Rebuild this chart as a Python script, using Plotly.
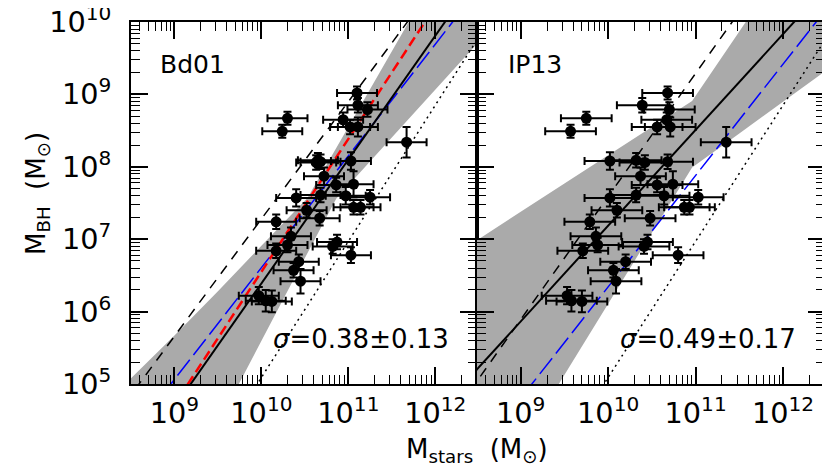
import numpy as np
import plotly.graph_objects as go
from plotly.subplots import make_subplots

# log10 M_BH, same galaxies in both panels
log_mbh = [9.02, 8.85, 8.79, 8.67, 8.65, 8.55, 8.55, 8.49, 8.34, 8.09, 8.08, 8.07, 8.06,
           7.87, 7.76, 7.75, 7.61, 7.60, 7.58, 7.57, 7.44, 7.44, 7.40, 7.29, 7.24, 7.04,
           6.96, 6.92, 6.90, 6.84, 6.78, 6.69, 6.57, 6.42, 6.22, 6.15, 6.14]
log_mbh_err = [0.09, 0.10, 0.10, 0.09, 0.10, 0.10, 0.13, 0.09, 0.21, 0.10, 0.12, 0.10, 0.10,
               0.12, 0.18, 0.10, 0.10, 0.12, 0.10, 0.12, 0.10, 0.10, 0.10, 0.10, 0.10, 0.12,
               0.10, 0.10, 0.10, 0.10, 0.11, 0.10, 0.10, 0.17, 0.12, 0.15, 0.15]
# log10 M_stars for the two estimates
log_mstar_bd = [11.10, 11.11, 11.22, 10.30, 10.94, 11.02, 11.11, 10.24, 11.67, 10.65, 11.03, 10.68, 10.63,
                10.72, 11.06, 10.86, 10.68, 10.97, 11.25, 10.40, 11.06, 11.14, 10.52, 10.67, 10.17, 10.34,
                10.87, 10.30, 10.82, 10.17, 11.03, 10.43, 10.37, 10.45, 9.97, 10.05, 10.12]
log_mstar_ip = [10.68, 10.39, 10.70, 9.75, 10.67, 10.56, 10.71, 9.57, 11.35, 10.32, 10.02, 10.68, 10.42,
                10.37, 10.74, 10.56, 10.32, 10.64, 11.03, 10.02, 10.87, 10.93, 10.10, 10.48, 9.79, 9.86,
                10.45, 9.88, 10.41, 9.71, 10.80, 10.20, 10.06, 10.09, 9.53, 9.58, 9.70]
mstar_err_bd = 0.23
mstar_err_ip = 0.29

# relations: (log M_BH at log M_stars = 11, slope)
fit_bd = (8.10, 1.71)
fit_ip = (8.51, 1.323)
dash_bd = (8.90, 1.62)
dash_ip = (9.29, 1.70)
blue_bd = (8.15, 1.543)
blue_ip = (7.88, 1.538)
red_bd = (8.385, 1.835)
dotted = (6.97, 1.88)

# confidence bands (log units)
band_bd_up_x = [8.3, 8.5, 9.0, 9.5, 10.0, 10.53, 11.0, 11.5, 12.0, 12.7]
band_bd_up_y = [4.83, 5.08, 5.67, 6.28, 6.91, 7.57, 8.55, 9.60, 10.65, 12.1]
band_bd_lo_x = [8.3, 9.5, 10.0, 10.5, 10.86, 11.0, 11.5, 12.0, 12.7]
band_bd_lo_y = [1.7, 4.46, 5.60, 6.74, 7.56, 7.75, 8.41, 9.07, 9.99]
band_ip_up_x = [8.3, 8.5, 9.0, 9.5, 10.0, 10.5, 10.96, 11.5, 12.0, 12.7]
band_ip_up_y = [6.83, 6.99, 7.38, 7.77, 8.16, 8.55, 8.91, 9.87, 10.76, 12.0]
band_ip_lo_x = [8.3, 9.43, 10.0, 10.5, 10.96, 11.5, 12.0, 12.48, 12.7]
band_ip_lo_y = [2.77, 4.99, 6.11, 7.09, 7.99, 8.46, 8.90, 9.32, 9.51]

xrange_log = [8.5, 12.48]
yrange_log = [5, 10]

W, H = 830, 468
FONT = "DejaVu Sans"

fig = make_subplots(rows=1, cols=2, shared_yaxes=True, horizontal_spacing=0)


def rel_line(par, lo=8.3, hi=12.7):
    xs = np.array([lo, hi])
    ys = par[0] + par[1] * (xs - 11)
    return 10 ** xs, 10 ** ys


def add_panel(col, band_up_x, band_up_y, band_lo_x, band_lo_y, lines, xs, xerr):
    bx = list(band_up_x) + list(band_lo_x)[::-1]
    by = list(band_up_y) + list(band_lo_y)[::-1]
    fig.add_trace(go.Scatter(x=10 ** np.array(bx), y=10 ** np.array(by), mode="lines",
                             fill="toself", fillcolor="#aaaaaa", line=dict(width=0),
                             hoverinfo="skip", showlegend=False), row=1, col=col)
    for par, color, dash, width in lines:
        lx, ly = rel_line(par)
        fig.add_trace(go.Scatter(x=lx, y=ly, mode="lines",
                                 line=dict(color=color, dash=dash, width=width),
                                 showlegend=False), row=1, col=col)
    xs = np.array(xs)
    ys = np.array(log_mbh)
    ye = np.array(log_mbh_err)
    fig.add_trace(go.Scatter(
        x=10 ** xs, y=10 ** ys, mode="markers",
        marker=dict(color="black", size=11),
        error_x=dict(type="data", symmetric=False,
                     array=10 ** (xs + xerr) - 10 ** xs,
                     arrayminus=10 ** xs - 10 ** (xs - xerr),
                     color="black", thickness=2, width=4),
        error_y=dict(type="data", symmetric=False,
                     array=10 ** (ys + ye) - 10 ** ys,
                     arrayminus=10 ** ys - 10 ** (ys - ye),
                     color="black", thickness=2, width=4),
        showlegend=False), row=1, col=col)


add_panel(1, band_bd_up_x, band_bd_up_y, band_bd_lo_x, band_bd_lo_y,
          [(dotted, "black", "2px,4px", 1.5),
           (dash_bd, "black", "10px,8px", 1.5),
           (blue_bd, "blue", "20px,6px", 1.5),
           (red_bd, "red", "10px,5px", 2.5),
           (fit_bd, "black", "solid", 2)],
          log_mstar_bd, mstar_err_bd)
add_panel(2, band_ip_up_x, band_ip_up_y, band_ip_lo_x, band_ip_lo_y,
          [(dotted, "black", "2px,4px", 1.5),
           (dash_ip, "black", "10px,8px", 1.5),
           (blue_ip, "blue", "20px,6px", 1.5),
           (fit_ip, "black", "solid", 2)],
          log_mstar_ip, mstar_err_ip)

axis_common = dict(type="log", dtick=1, exponentformat="power", ticks="inside",
                   ticklen=17, tickwidth=1.5, tickcolor="black", mirror="allticks",
                   showline=True, linewidth=2, linecolor="black", showgrid=False,
                   zeroline=False, ticklabeloverflow="allow", automargin=False,
                   minor=dict(ticks="inside", ticklen=9, tickwidth=1.2, tickcolor="black",
                              dtick="D1", showgrid=False),
                   tickfont=dict(family=FONT, size=23, color="black"))

x0, xm, x1 = 123 / W, 469 / W, 817 / W
y0, y1 = 1 - 376 / H, 1 - 14 / H

fig.update_xaxes(**axis_common, range=xrange_log, ticklabelstandoff=4)
fig.update_xaxes(domain=[x0, xm], row=1, col=1)
fig.update_xaxes(domain=[xm, x1], row=1, col=2)
fig.update_yaxes(**axis_common, range=yrange_log, domain=[y0, y1], ticklabelstandoff=13)
fig.update_yaxes(showticklabels=False, row=1, col=2)

nb = "\u00a0"
annots = [
    dict(text="Bd01", x=150 / W, y=1 - 56 / H, xanchor="left", yanchor="middle", size=25, angle=0),
    dict(text="IP13", x=498 / W, y=1 - 56 / H, xanchor="left", yanchor="middle", size=25, angle=0),
    dict(text="<i>σ</i>=0.38±0.13", x=263 / W, y=1 - 331 / H, xanchor="left", yanchor="middle",
         size=26, angle=0),
    dict(text="<i>σ</i>=0.49±0.17", x=610 / W, y=1 - 331 / H, xanchor="left", yanchor="middle",
         size=26, angle=0),
    dict(text="M<sub>stars</sub>" + nb * 2 + "(M<sub>⊙</sub>)", x=469 / W, y=1 - 442 / H,
         xanchor="center", yanchor="middle", size=26, angle=0),
    dict(text="M<sub>BH</sub>" + nb * 2 + "(M<sub>⊙</sub>)", x=30 / W, y=1 - 186 / H,
         xanchor="center", yanchor="middle", size=26, angle=-90),
]
for a in annots:
    fig.add_annotation(text=a["text"], x=a["x"], y=a["y"], xref="paper", yref="paper",
                       xanchor=a["xanchor"], yanchor=a["yanchor"], showarrow=False,
                       textangle=a["angle"],
                       font=dict(family=FONT, size=a["size"], color="black"))

fig.update_layout(width=W, height=H, margin=dict(l=0, r=0, t=0, b=0, autoexpand=False),
                  paper_bgcolor="white", plot_bgcolor="white",
                  font=dict(family=FONT, color="black"))

fig.write_html("out.html")
